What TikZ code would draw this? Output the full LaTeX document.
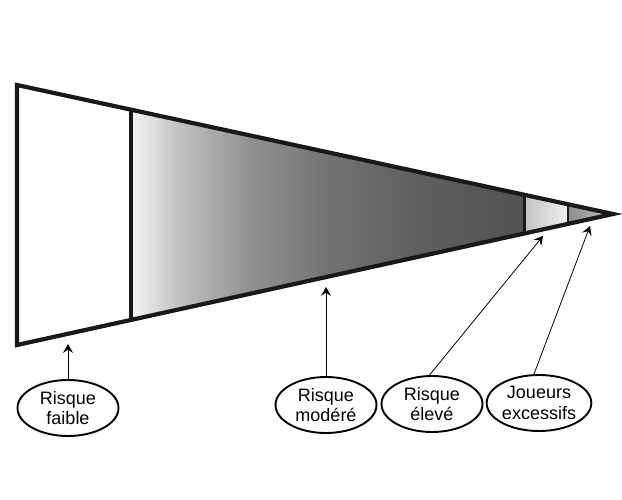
\documentclass[tikz,border=0pt]{standalone}
\usepackage{fontspec}
\setmainfont{Liberation Sans}
\usetikzlibrary{shapes.geometric,arrows.meta,calc}
\pgfdeclarehorizontalshading{midshade}{100bp}{%
  color(0bp)=(black!4); color(25bp)=(black!4); color(31bp)=(black!24);
  color(40bp)=(black!43); color(50bp)=(black!55); color(62bp)=(black!63);
  color(75bp)=(black!68); color(100bp)=(black!68)}
\begin{document}
\begin{tikzpicture}[x=1pt,y=-1pt,
  outline/.style={line width=4.2pt,line join=miter,black!90},
  divider/.style={line width=3.6pt,black!90},
  bubble/.style={ellipse,draw,line width=1.9pt,minimum width=101pt,minimum height=56pt,
     inner sep=0pt,align=center,font=\fontsize{18}{20.5}\selectfont},
  arr/.style={line width=0.8pt,-{Stealth[length=9pt,width=10pt,inset=3.5pt]}}]
\useasboundingbox (0,0) rectangle (622,500);
% corners of the funnel
\coordinate (TL) at (17,85);
\coordinate (BL) at (17,345);
\coordinate (T) at (613,214);
\coordinate (t1) at ($(TL)!0.1913!(T)$);
\coordinate (b1) at ($(BL)!0.1913!(T)$);
\coordinate (t2) at ($(TL)!0.8507!(T)$);
\coordinate (b2) at ($(BL)!0.8507!(T)$);
\coordinate (t3) at ($(TL)!0.9245!(T)$);
\coordinate (b3) at ($(BL)!0.9245!(T)$);
% fills
\fill[white] (TL) -- (t1) -- (b1) -- (BL) -- cycle;
\shade[shading=midshade] (t1) -- (t2) -- (b2) -- (b1) -- cycle;
\shade[left color=black!24,right color=black!6] (t2) -- (t3) -- (b3) -- (b2) -- cycle;
\shade[left color=black!45,right color=black!24] (t3) -- (T) -- (b3) -- cycle;
% dividers
\draw[divider] (t1) -- (b1);
\draw[divider,line width=3pt] (t2) -- (b2);
\draw[divider,line width=2.4pt] (t3) -- (b3);
% outline
\draw[outline] (TL) -- (T) -- (BL) -- cycle;
% labels
\node[bubble] (faible) at (68,408) {Risque\\faible};
\node[bubble] (modere) at (326,405) {Risque\\modéré};
\node[bubble] (eleve) at (432,404) {Risque\\élevé};
\node[bubble] (joueurs) at (539,403) {Joueurs\\excessifs};
% arrow targets
\coordinate (af) at (68,344);
\coordinate (am) at (326,287);
\coordinate (ae) at (543,236);
\coordinate (aj) at (590,226);
\draw[arr] (faible.north) -- (af);
\draw[arr] (modere.north) -- (am);
\draw[arr] (eleve.95) -- (ae);
\draw[arr] (joueurs.100) -- (aj);
\end{tikzpicture}
\end{document}
